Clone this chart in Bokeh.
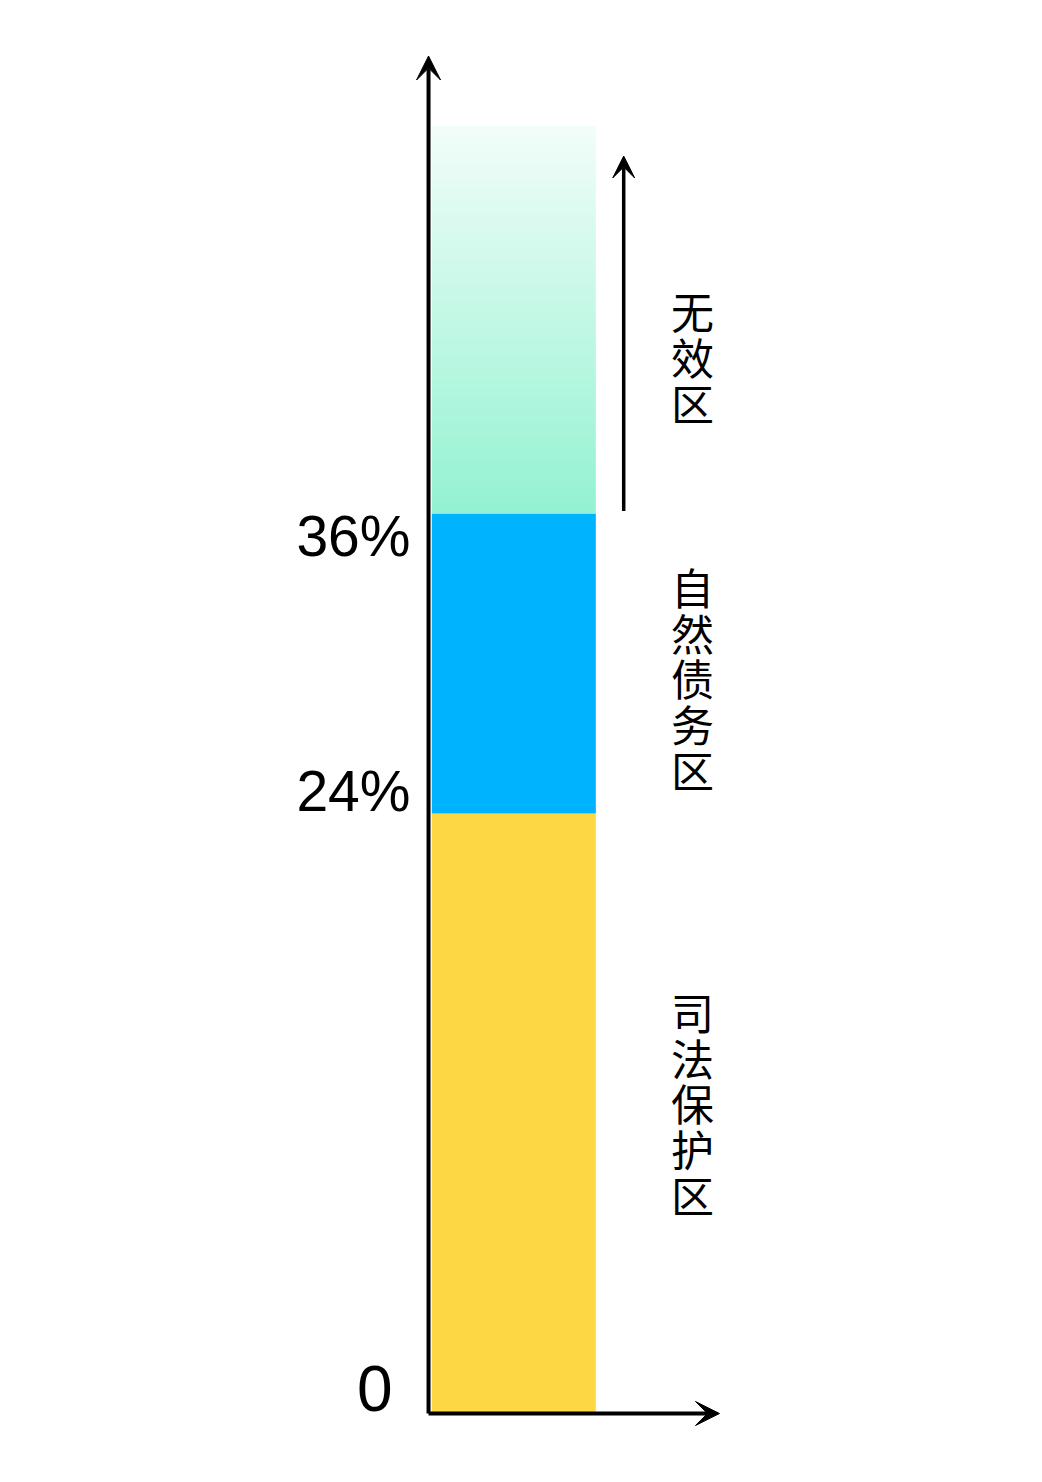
import numpy as np
from bokeh.plotting import figure
from bokeh.models import Range1d, Arrow, VeeHead, ColumnDataSource
from bokeh.core.properties import value
from bokeh.embed import file_html
from bokeh.resources import INLINE

# ---- data ----
zone_names = ["司法保护区", "自然债务区", "无效区"]
zone_bottom = [0, 24, 36]
zone_top = [24, 36, 51.5]          # top zone is open-ended; drawn fading out
zone_colors = ["#fed745", "#00b3ff", None]
tick_values = [0, 24, 36]
tick_labels = ["0", "24%", "36%"]
grad_top_color = (242, 253, 249)
grad_bottom_color = (147, 242, 209)

# ---- figure ----
W, H = 1026, 1466
XS = -2.61
YS = -2.12
p = figure(width=W, height=H, output_backend="svg", toolbar_location=None,
           x_range=Range1d(XS, XS + W / 164), y_range=Range1d(YS, YS + H / 25),
           min_border=0, outline_line_color=None)
p.axis.visible = False
p.grid.visible = False
p.background_fill_color = "white"
p.border_fill_color = "white"

# solid zones
solid = [i for i, c in enumerate(zone_colors) if c is not None]
src = ColumnDataSource(dict(
    bottom=[zone_bottom[i] for i in solid],
    top=[zone_top[i] for i in solid],
    color=[zone_colors[i] for i in solid],
))
p.quad(left=0.02, right=1.02, bottom="bottom", top="top", fill_color="color",
       line_color=None, source=src)

# gradient zone (top)
n = 256
t = np.linspace(0, 1, n)  # 0 at bottom row, 1 at top
rgb = (1 - t)[:, None] * np.array(grad_bottom_color) + t[:, None] * np.array(grad_top_color)
img = np.empty((n, 1), dtype=np.uint32)
view = img.view(dtype=np.uint8).reshape((n, 1, 4))
for k in range(3):
    view[:, 0, k] = rgb[:, k].round().astype(np.uint8)
view[:, 0, 3] = 255
p.image_rgba(image=[img], x=0.02, y=zone_bottom[2], dw=1.0,
             dh=zone_top[2] - zone_bottom[2])

# axes as arrows
p.add_layout(Arrow(end=VeeHead(size=24, fill_color="black", line_color="black"),
                   x_start=0, y_start=0, x_end=0, y_end=54.3,
                   line_width=4, line_color="black"))
p.add_layout(Arrow(end=VeeHead(size=24, fill_color="black", line_color="black"),
                   x_start=0, y_start=0, x_end=1.774, y_end=0,
                   line_width=4, line_color="black"))
# direction arrow next to top zone
p.add_layout(Arrow(end=VeeHead(size=22, fill_color="black", line_color="black"),
                   x_start=1.19, y_start=zone_bottom[2] + 0.1, x_end=1.19, y_end=50.3,
                   line_width=3.5, line_color="black"))

# tick labels
tsrc = ColumnDataSource(dict(y=tick_values, text=tick_labels,
                             size=["64px", "57px", "57px"],
                             xo=[-18, 0, 0], yo=[-25, -23, 22]))
p.text(x=-0.11, y="y", text="text", source=tsrc,
       text_align="right", text_baseline="middle",
       text_font=value("Liberation Sans"), text_font_size="size",
       text_color="black", x_offset="xo", y_offset="yo")

# zone labels (vertical)
label_y = [(b + t_) / 2 for b, t_ in zip(zone_bottom, zone_top)]
label_y[2] = 42.3
p.text(x=[1.61] * 3, y=label_y, text=["\n".join(s) for s in zone_names],
       text_align="center", text_baseline="middle",
       text_font=value("Noto Sans CJK SC"), text_font_size="43px",
       text_line_height=0.74, text_color="black", y_offset=[-11, 14, 0])

open("out.html", "w").write(file_html(p, INLINE))
